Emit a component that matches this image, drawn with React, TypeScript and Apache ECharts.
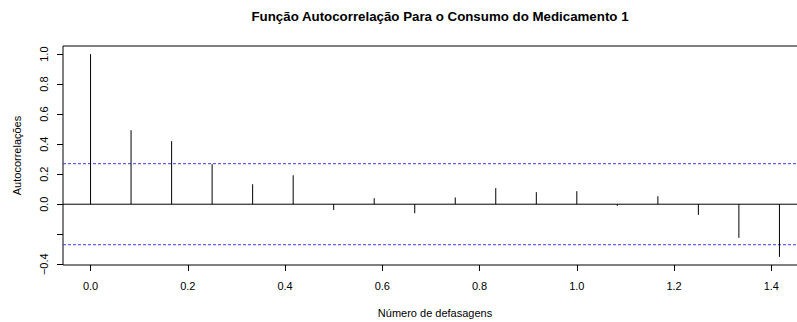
import React, { useEffect, useRef } from "react";
import * as echarts from "echarts";

// Lags in years (monthly series, lag k = k/12)
const lags = [
  0, 0.0833, 0.1667, 0.25, 0.3333, 0.4167, 0.5, 0.5833, 0.6667, 0.75, 0.8333,
  0.9167, 1, 1.0833, 1.1667, 1.25, 1.3333, 1.4167,
];
// Sample autocorrelations at each lag
const acfValues = [
  1.0, 0.493, 0.42, 0.267, 0.133, 0.193, -0.038, 0.04, -0.06, 0.045, 0.107,
  0.08, 0.087, -0.011, 0.053, -0.071, -0.224, -0.351,
];
// 95% confidence bound (±)
const confBound = 0.27;

const xTicks = [0, 0.2, 0.4, 0.6, 0.8, 1.0, 1.2, 1.4];
const yTicks = [-0.4, -0.2, 0, 0.2, 0.4, 0.6, 0.8, 1.0];
const yLabels = [-0.4, 0, 0.2, 0.4, 0.6, 0.8, 1.0];

const FONT = "'Liberation Sans', Arial, Helvetica, sans-serif";
const CI_BLUE = "#3b3bff";

function fmt(v: number): string {
  const s = v.toFixed(1);
  return s.startsWith("-") ? "\u2212" + s.slice(1) : s;
}

export default function App() {
  const ref = useRef<HTMLDivElement>(null);

  useEffect(() => {
    if (!ref.current) return;
    const chart = echarts.init(ref.current, undefined, { renderer: "svg" });

    // axis limits extended by 4% on each side, as in base R plots
    const xr = lags[lags.length - 1] - lags[0];
    const xMin = lags[0] - 0.04 * xr;
    const xMax = lags[lags.length - 1] + 0.04 * xr;
    const yLo = Math.min(-confBound, ...acfValues);
    const yHi = Math.max(confBound, ...acfValues);
    const yr = yHi - yLo;
    const yMin = yLo - 0.04 * yr;
    const yMax = yHi + 0.04 * yr;

    const points = lags.map((l, i) => [l, acfValues[i]]);

    // full-width horizontal reference line at a given level
    const hLine = (level: number, color: string, type: any, z: number) => ({
      type: "line",
      data: [
        [xMin, level],
        [xMax, level],
      ],
      symbol: "none",
      silent: true,
      z,
      lineStyle: { color, type, width: 1 },
    });

    chart.setOption({
      animation: false,
      backgroundColor: "#ffffff",
      textStyle: { fontFamily: FONT },
      title: {
        text: "Função Autocorrelação Para o Consumo do Medicamento 1",
        left: 435,
        top: 5,
        textAlign: "center",
        textStyle: {
          fontFamily: FONT,
          fontSize: 13.3,
          fontWeight: "bold",
          color: "#000",
        },
      },
      grid: {
        left: 63,
        right: -10,
        top: 46,
        bottom: 57,
        show: true,
        borderColor: "#000",
        borderWidth: 1,
        backgroundColor: "transparent",
        containLabel: false,
        outerBoundsMode: "none",
      },
      xAxis: {
        type: "value",
        min: xMin,
        max: xMax,
        name: "Número de defasagens",
        nameLocation: "middle",
        nameGap: 42,
        nameTextStyle: { fontFamily: FONT, fontSize: 11, color: "#000" },
        axisLine: { show: false, onZero: false },
        splitLine: { show: false },
        axisTick: {
          show: true,
          inside: false,
          length: 6,
          customValues: xTicks,
          lineStyle: { color: "#000", width: 1 },
        },
        axisLabel: {
          show: true,
          customValues: xTicks,
          margin: 15,
          fontFamily: FONT,
          fontSize: 11,
          color: "#000",
          formatter: (v: number) => fmt(v),
        },
      },
      yAxis: {
        type: "value",
        min: yMin,
        max: yMax,
        name: "Autocorrelações",
        nameLocation: "middle",
        nameRotate: 90,
        nameGap: 41,
        nameTextStyle: { fontFamily: FONT, fontSize: 11, color: "#000" },
        axisLine: { show: false, onZero: false },
        splitLine: { show: false },
        axisTick: {
          show: true,
          inside: false,
          length: 6,
          customValues: yTicks,
          lineStyle: { color: "#000", width: 1 },
        },
        axisLabel: {
          show: true,
          customValues: yLabels,
          rotate: 90,
          margin: 14,
          fontFamily: FONT,
          fontSize: 11,
          color: "#000",
          formatter: (v: number) => fmt(v),
        },
      },
      series: [
        hLine(0, "#000", "solid", 2),
        hLine(confBound, CI_BLUE, [3, 2], 3),
        hLine(-confBound, CI_BLUE, [3, 2], 3),
        {
          // autocorrelation spikes
          type: "custom",
          data: points,
          clip: false,
          z: 5,
          renderItem: (params: any, api: any) => {
            const p0 = api.coord([api.value(0), 0]);
            const p1 = api.coord([api.value(0), api.value(1)]);
            return {
              type: "line",
              shape: { x1: p0[0], y1: p0[1], x2: p1[0], y2: p1[1] },
              style: { stroke: "#000", lineWidth: 1 },
            };
          },
        },
      ],
    });

    return () => chart.dispose();
  }, []);

  return (
    <div
      ref={ref}
      style={{ position: "fixed", left: 0, top: 0, width: 797, height: 322 }}
    />
  );
}
